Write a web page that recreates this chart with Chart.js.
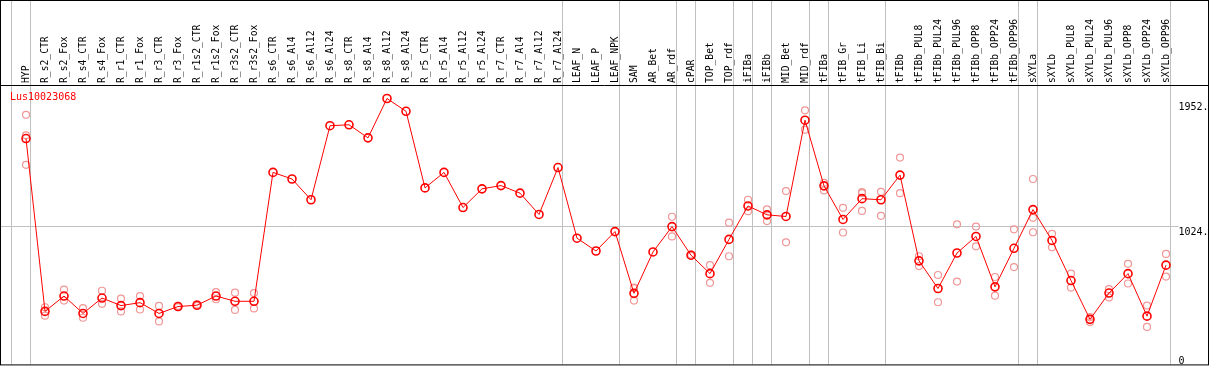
<!DOCTYPE html>
<html>
<head>
<meta charset="utf-8">
<script src="https://cdn.jsdelivr.net/npm/chart.js@4/dist/chart.umd.min.js"></script>
<style>
  body { margin: 0; background: #fff; }
  canvas { display: block; }
</style>
</head>
<body>
<canvas id="chart" width="1209" height="370"></canvas>
<script>
let geneName = "Lus10023068";

let labels = ["HYP", "R_s2_CTR", "R_s2_Fox", "R_s4_CTR", "R_s4_Fox", "R_r1_CTR", "R_r1_Fox", "R_r3_CTR", "R_r3_Fox",
    "R_r1s2_CTR", "R_r1s2_Fox", "R_r3s2_CTR", "R_r3s2_Fox",
    "R_s6_CTR", "R_s6_Al4", "R_s6_Al12", "R_s6_Al24", "R_s8_CTR", "R_s8_Al4", "R_s8_Al12", "R_s8_Al24",
    "R_r5_CTR", "R_r5_Al4", "R_r5_Al12", "R_r5_Al24", "R_r7_CTR", "R_r7_Al4", "R_r7_Al12", "R_r7_Al24",
    "LEAF_N", "LEAF_P", "LEAF_NPK", "SAM", "AR_Bet", "AR_rdf", "cPAR", "TOP_Bet", "TOP_rdf", "iFIBa", "iFIBb",
    "MID_Bet", "MID_rdf", "tFIBa", "tFIB_Gr", "tFIB_Li", "tFIB_Bi", "tFIBb",
    "tFIBb_PUL8", "tFIBb_PUL24", "tFIBb_PUL96", "tFIBb_OPP8", "tFIBb_OPP24", "tFIBb_OPP96",
    "sXYLa", "sXYLb", "sXYLb_PUL8", "sXYLb_PUL24", "sXYLb_PUL96", "sXYLb_OPP8", "sXYLb_OPP24", "sXYLb_OPP96"];

// mean expression
let means = [1675, 393, 507, 378, 492, 436, 458, 378, 429, 439, 507, 468, 468,
    1424, 1375, 1221, 1770, 1777, 1680, 1972, 1877,
    1309, 1424, 1163, 1302, 1326, 1270, 1112, 1460,
    936, 841, 985, 527, 834, 1022, 810, 673, 927, 1175, 1109,
    1097, 1811, 1324, 1075, 1229, 1221, 1404,
    768, 563, 826, 949, 575, 861,
    1148, 919, 622, 334, 529, 673, 358, 736];

// replicates
let repA = [1851, 424, 554, 417, 546, 488, 507, 434, 435, 445, 536, 532, 529,
    null, null, null, null, null, null, null, null,
    null, null, null, null, null, null, null, null,
    null, null, null, 570, null, 1095, 815, 736, 1051, 1221, 1150,
    1285, 1884, 1346, 1161, 1278, 1280, 1534,
    802, 663, 1039, 1022, 648, 1002,
    1375, 968, 673, 351, 558, 746, 436, 819];

let repB = [1480, 361, 473, 346, 449, 393, 407, 319, 425, 434, 483, 404, 415,
    null, null, null, null, null, null, null, null,
    null, null, null, null, null, null, null, null,
    null, null, null, 473, null, 949, 805, 605, 802, 1136, 1063,
    905, 1741, 1290, 978, 1138, 1102, 1270,
    729, 461, 614, 876, 510, 722,
    980, 868, 570, 314, 497, 600, 278, 651];

let repC = [1699, null, null, null, null, null, null, null, null, null, null, null, null,
    null, null, null, null, null, null, null, null,
    null, null, null, null, null, null, null, null,
    null, null, null, 565, null, null, null, null, null, null, null,
    null, null, null, null, 1270, null, null,
    null, null, null, null, null, null,
    1087, null, null, null, null, null, null, null];

let yTicks = [0, 1024, 1952];
let yGridValue = 1024;
let yMax = 2072;
// group separators: line drawn after these category indexes
let separators = [-1, 0, 28, 31, 34, 35, 37, 38, 39, 41, 42, 45, 52, 53, 60];

let monoFont = "DejaVu Sans Mono";

let framePlugin = {
    id: "frame",
    beforeDatasetsDraw(chart) {
        let ctx = chart.ctx;
        let x = chart.scales.x;
        let y = chart.scales.y;
        let area = chart.chartArea;
        let step = x.getPixelForValue(1) - x.getPixelForValue(0);
        ctx.save();
        ctx.strokeStyle = "#c0c0c0";
        ctx.lineWidth = 1;
        separators.forEach(function (i) {
            let px = Math.round(x.getPixelForValue(0) + step * i + 4) + 0.5;
            ctx.beginPath();
            ctx.moveTo(px, 0);
            ctx.lineTo(px, area.bottom);
            ctx.stroke();
        });
        // horizontal reference line, runs into the axis label column
        let gy = Math.round(y.getPixelForValue(yGridValue)) + 0.5;
        ctx.beginPath();
        ctx.moveTo(1, gy);
        ctx.lineTo(area.right + 3, gy);
        ctx.stroke();
        ctx.restore();
    },
    afterDraw(chart) {
        let ctx = chart.ctx;
        let area = chart.chartArea;
        let y = chart.scales.y;
        ctx.save();
        ctx.strokeStyle = "#000";
        ctx.lineWidth = 1;
        ctx.strokeRect(0.5, 0.5, chart.width - 1, area.bottom);
        ctx.beginPath();
        ctx.moveTo(0, Math.round(area.top) + 0.5);
        ctx.lineTo(chart.width, Math.round(area.top) + 0.5);
        ctx.stroke();

        ctx.font = "10px '" + monoFont + "'";
        ctx.fillStyle = "#ff0000";
        ctx.textBaseline = "middle";
        ctx.textAlign = "left";
        ctx.fillText(geneName, 10, area.top + 12);

        ctx.fillStyle = "#000";
        ctx.textBaseline = "top";
        yTicks.forEach(function (v) {
            let py = Math.min(y.getPixelForValue(v) + 1, area.bottom - 8);
            ctx.fillText(v === 0 ? "0" : v + ".", area.right + 3, py);
        });
        ctx.restore();
    }
};

function repSet(data) {
    return {
        data: data,
        showLine: false,
        order: 1,
        pointStyle: "circle",
        pointRadius: 3.5,
        pointBorderWidth: 1.2,
        pointBorderColor: "rgb(240, 150, 150)",
        pointBackgroundColor: "transparent",
        pointHoverRadius: 3.5
    };
}

new Chart(document.getElementById("chart"), {
    type: "line",
    data: {
        labels: labels,
        datasets: [
            {
                data: means,
                order: 0,
                borderColor: "#ff0000",
                borderWidth: 1,
                pointStyle: "circle",
                pointRadius: 4,
                pointBorderWidth: 1.6,
                pointBorderColor: "#ff0000",
                pointBackgroundColor: "transparent",
                tension: 0
            },
            repSet(repA),
            repSet(repB),
            repSet(repC)
        ]
    },
    options: {
        responsive: false,
        devicePixelRatio: 1,
        animation: false,
        layout: { padding: { left: 16.5, right: 0, top: 0, bottom: 2 } },
        plugins: {
            legend: { display: false },
            tooltip: { enabled: false }
        },
        scales: {
            x: {
                type: "category",
                position: "top",
                offset: true,
                grid: { display: false, drawTicks: false },
                border: { display: false },
                ticks: {
                    autoSkip: false,
                    minRotation: 90,
                    maxRotation: 90,
                    padding: 2,
                    labelOffset: 12,
                    color: "#000",
                    font: { family: monoFont, size: 9.7 }
                },
                afterFit(scale) { scale.height = 85; }
            },
            y: {
                type: "linear",
                position: "right",
                min: 0,
                max: yMax,
                border: { display: false },
                grid: { display: false },
                ticks: { display: false },
                afterBuildTicks(scale) { scale.ticks = yTicks.map(function (v) { return { value: v }; }); },
                afterFit(scale) { scale.width = 33.5; }
            }
        }
    },
    plugins: [framePlugin]
});
</script>
</body>
</html>
